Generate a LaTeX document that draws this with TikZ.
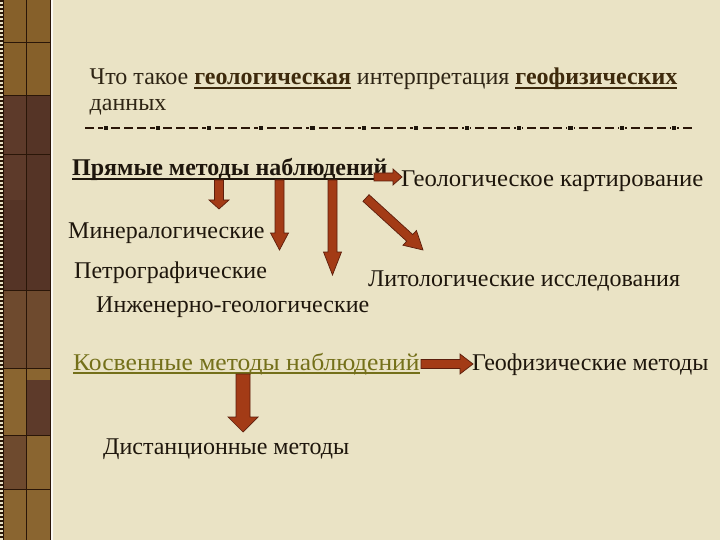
\documentclass[tikz,border=0pt]{standalone}
\usepackage{fontspec}
\setmainfont{Liberation Serif}
\usetikzlibrary{calc}
\definecolor{paper}{HTML}{EAE3C5}
\definecolor{ink}{HTML}{1E160C}
\definecolor{titleink}{HTML}{2E2414}
\definecolor{boldbrown}{HTML}{3E2A0C}
\definecolor{olive}{HTML}{74701A}
\definecolor{arrfill}{HTML}{A33B16}
\definecolor{arrline}{HTML}{5C1E0C}
\definecolor{stripA}{HTML}{86602A}
\definecolor{stripB}{HTML}{5D3A2A}
\definecolor{stripC}{HTML}{553426}
\definecolor{stripD}{HTML}{6E4A2E}
\definecolor{stripE}{HTML}{8A6530}
\definecolor{stripline}{HTML}{2A1608}
\newcommand{\myul}[1]{\setbox0\hbox{#1}\rlap{\rule[-3.8pt]{\wd0}{1.6pt}}\box0}
\tikzset{
  txt/.style={anchor=base west, inner sep=0pt, font=\fontsize{24}{28}\selectfont, text=ink},
  blockarrow/.style={fill=arrfill, draw=arrline, line width=0.7pt, line join=miter},
  rulerdash/.style={draw=stripline, line width=1.3pt, dash pattern=on 9pt off 4pt},
  marker/.style={fill=ink, draw=paper, line width=0.8pt}
}
\newcommand{\blockarr}[5]{%
  \coordinate (#1-hb) at ($(#2)!#5!(#1)$);
  \filldraw[blockarrow] ($(#1)!#3!90:(#2)$) -- ($(#1-hb)!#3!90:(#2)$) -- ($(#1-hb)!#4!90:(#2)$) -- (#2) -- ($(#1-hb)!#4!-90:(#2)$) -- ($(#1-hb)!#3!-90:(#2)$) -- ($(#1)!#3!-90:(#2)$) -- cycle;
}
\begin{document}
\begin{tikzpicture}[x=1pt,y=-1pt]
\useasboundingbox (0,0) rectangle (720,540);
\fill[paper] (0,0) rectangle (720,540);
% left strip
\fill[stripA] (3,0) rectangle (50,95);
\fill[stripC] (3,95) rectangle (50,290);
\fill[stripB] (3,95) rectangle (26,200);
\fill[stripD] (3,290) rectangle (50,368);
\fill[stripE] (3,368) rectangle (50,540);
\fill[stripB] (26,380) rectangle (50,435);
\fill[stripD] (3,435) rectangle (26,489);
\draw[stripline, line width=0.9pt] (26,0) -- (26,540);
\foreach \yy in {42,95,154,290,368,435,489}
  \draw[stripline, line width=0.9pt] (3,\yy) -- (50,\yy);
\draw[stripline, line width=1pt] (3,0) rectangle (50,540);
\draw[stripline, line width=2.5pt, dash pattern=on 2pt off 2pt] (1.3,0) -- (1.3,540);
\draw[white!80!paper, line width=1.6pt] (51.8,0) -- (51.8,540);
% title
\node[txt, text=titleink] (t1) at (89.5,85) {Что такое \textcolor{boldbrown}{\myul{\textbf{геологическая}}} интерпретация \textcolor{boldbrown}{\myul{\textbf{геофизических}}}};
\node[txt, text=titleink] (t2) at (89.5,111) {данных};
% dashed rule
\coordinate (r1) at (85,128);
\coordinate (r2) at (695,128);
\draw[rulerdash] (r1) -- (r2);
\foreach \k in {0,...,11}
  \filldraw[marker] ({106+51.6*\k-2.6},125.4) rectangle ++(5.2,5.2);
% texts
\node[txt] (direct) at (72,176) {\myul{\textbf{Прямые методы наблюдений}}};
\node[txt] (map) at (401,187) {\scalebox{1.03}[1]{Геологическое картирование}};
\node[txt] (miner) at (68,239) {Минералогические};
\node[txt] (petro) at (74,278) {Петрографические};
\node[txt] (litho) at (368,286) {Литологические исследования};
\node[txt] (engin) at (96,312) {Инженерно-геологические};
\node[txt, text=olive] (indirect) at (73,370) {\myul{\scalebox{1.065}[1]{Косвенные методы наблюдений}}};
\node[txt] (geoph) at (472,370) {Геофизические методы};
\node[txt] (remote) at (103,454) {Дистанционные методы};
% arrows
\coordinate (a0s) at (374,177); \coordinate (a0e) at (402,177);
\coordinate (a1s) at (219,180); \coordinate (a1e) at (219,209);
\coordinate (a2s) at (279.5,180); \coordinate (a2e) at (279.5,250);
\coordinate (a3s) at (332.5,180); \coordinate (a3e) at (332.5,275);
\coordinate (a4s) at (366,198); \coordinate (a4e) at (423,250);
\coordinate (a5s) at (421,364); \coordinate (a5e) at (473,364);
\coordinate (a6s) at (243,374); \coordinate (a6e) at (243,432);
\blockarr{a0s}{a0e}{4pt}{8pt}{9pt}
\blockarr{a1s}{a1e}{4.5pt}{10pt}{9pt}
\blockarr{a2s}{a2e}{4.5pt}{9pt}{17pt}
\blockarr{a3s}{a3e}{4.5pt}{9pt}{23pt}
\blockarr{a4s}{a4e}{4.5pt}{10pt}{18pt}
\blockarr{a5s}{a5e}{4.5pt}{10pt}{13pt}
\blockarr{a6s}{a6e}{7pt}{15pt}{15pt}
\end{tikzpicture}
\end{document}
